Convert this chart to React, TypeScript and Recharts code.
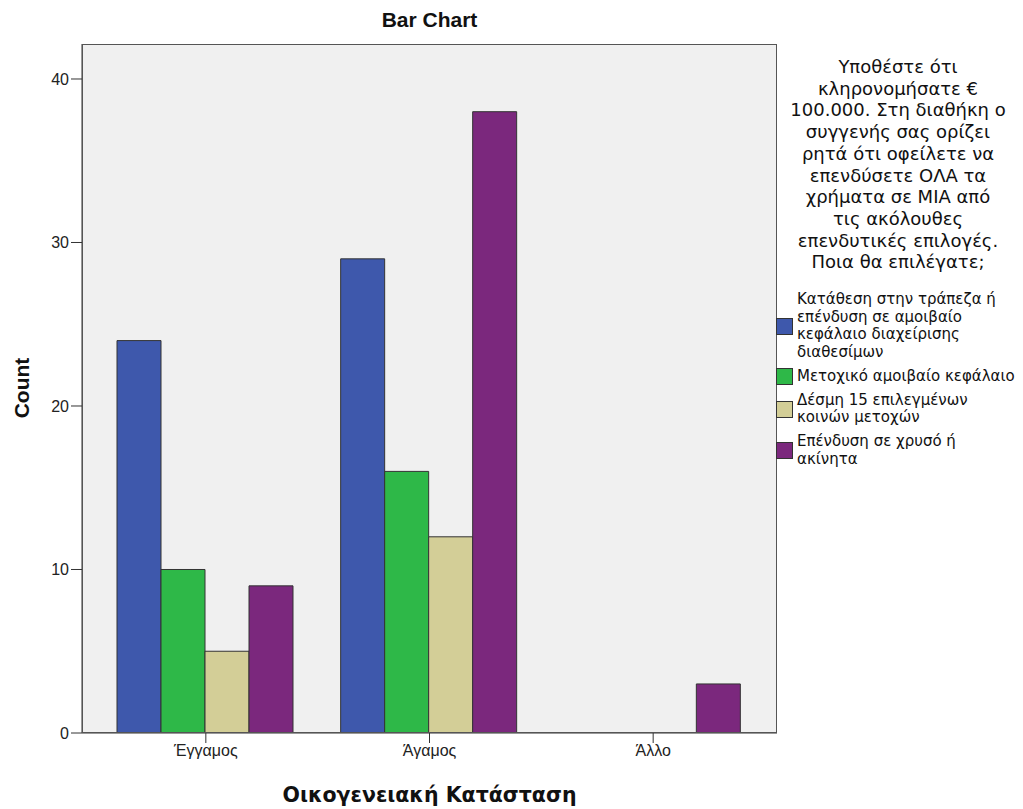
import React from 'react';
import { BarChart, Bar, XAxis, YAxis, CartesianGrid } from 'recharts';

const categories = ['Έγγαμος', 'Άγαμος', 'Άλλο'];
const bankDeposit = [24, 29, 0];
const equityFund = [10, 16, 0];
const stockBundle = [5, 12, 0];
const goldRealEstate = [9, 38, 3];
const yTicks = [0, 10, 20, 30, 40];

const seriesInfo = [
  { key: 'bank', color: '#3e58ac', lines: ['Κατάθεση στην τράπεζα ή', 'επένδυση σε αμοιβαίο', 'κεφάλαιο διαχείρισης', 'διαθεσίμων'] },
  { key: 'equity', color: '#2eb848', lines: ['Μετοχικό αμοιβαίο κεφάλαιο'] },
  { key: 'stocks', color: '#d3ce97', lines: ['Δέσμη 15 επιλεγμένων', 'κοινών μετοχών'] },
  { key: 'gold', color: '#7b287d', lines: ['Επένδυση σε χρυσό ή', 'ακίνητα'] },
];

const legendTitle = [
  'Υποθέστε ότι',
  'κληρονομήσατε €',
  '100.000. Στη διαθήκη ο',
  'συγγενής σας ορίζει',
  'ρητά ότι οφείλετε να',
  'επενδύσετε ΟΛΑ τα',
  'χρήματα σε ΜΙΑ από',
  'τις ακόλουθες',
  'επενδυτικές επιλογές.',
  'Ποια θα επιλέγατε;',
];

const data = categories.map((c, i) => ({
  name: c,
  bank: bankDeposit[i],
  equity: equityFund[i],
  stocks: stockBundle[i],
  gold: goldRealEstate[i],
}));

const font = '"Liberation Sans", Arial, sans-serif';
const wideFont = '"DejaVu Sans", sans-serif';

const LegendBox = () => (
  <div style={{ position: 'absolute', left: 776, top: 56, width: 247, fontFamily: wideFont, color: '#111' }}>
    <div style={{ width: 244, textAlign: 'center', fontSize: 18, lineHeight: '21.7px' }}>
      {legendTitle.map((l) => (
        <div key={l} style={{ whiteSpace: 'nowrap' }}>{l}</div>
      ))}
    </div>
    <div style={{ marginTop: 18 }}>
      {seriesInfo.map((s) => (
        <div key={s.key} style={{ display: 'flex', alignItems: 'center', marginBottom: 6 }}>
          <div style={{ width: 15, height: 15, background: s.color, border: '1px solid #333', marginRight: 4, flexShrink: 0 }} />
          <div style={{ fontSize: 15, lineHeight: '17.7px' }}>
            {s.lines.map((l) => (
              <div key={l} style={{ whiteSpace: 'nowrap' }}>{l}</div>
            ))}
          </div>
        </div>
      ))}
    </div>
  </div>
);

export default function App() {
  return (
    <div style={{ position: 'absolute', left: 0, top: 0, width: 1023, height: 809, background: '#fff', fontFamily: font }}>
      <div style={{ position: 'absolute', left: 82, width: 695, top: 8, textAlign: 'center', fontWeight: 'bold', fontSize: 21, color: '#111' }}>
        Bar Chart
      </div>
      <div
        style={{
          position: 'absolute', left: 22, top: 388, transform: 'translate(-50%, -50%) rotate(-90deg)',
          fontWeight: 'bold', fontSize: 21, color: '#111', whiteSpace: 'nowrap',
        }}
      >
        Count
      </div>
      <div style={{ position: 'absolute', left: 82, width: 695, top: 783, textAlign: 'center', fontWeight: 'bold', fontSize: 20.5, fontFamily: wideFont, color: '#111' }}>
        Οικογενειακή Κατάσταση
      </div>
      <BarChart
        width={1023}
        height={809}
        data={data}
        margin={{ top: 44, right: 246, left: 0, bottom: 46 }}
        barCategoryGap={23}
        barGap={0}
      >
        <CartesianGrid fill="#f0f0f0" horizontal={false} vertical={false} />
        <XAxis
          dataKey="name"
          padding={{ left: 12, right: 12 }}
          height={30}
          tickSize={10}
          stroke="#333"
          tick={{ fill: '#222', fontSize: 16, fontFamily: font }}
          axisLine={{ stroke: '#333' }}
          tickLine={{ stroke: '#333' }}
        />
        <YAxis
          width={82}
          domain={[0, 42.14]}
          ticks={yTicks}
          tickSize={11}
          allowDataOverflow
          stroke="#333"
          tick={{ fill: '#222', fontSize: 16, fontFamily: font }}
          axisLine={{ stroke: '#333' }}
          tickLine={{ stroke: '#333' }}
        />
        {seriesInfo.map((s) => (
          <Bar key={s.key} dataKey={s.key} fill={s.color} stroke="#333" strokeWidth={1} isAnimationActive={false} />
        ))}
      </BarChart>
      <div style={{ position: 'absolute', left: 82, top: 44, width: 695, height: 689, border: '1px solid #555', boxSizing: 'border-box', pointerEvents: 'none' }} />
      <LegendBox />
    </div>
  );
}
